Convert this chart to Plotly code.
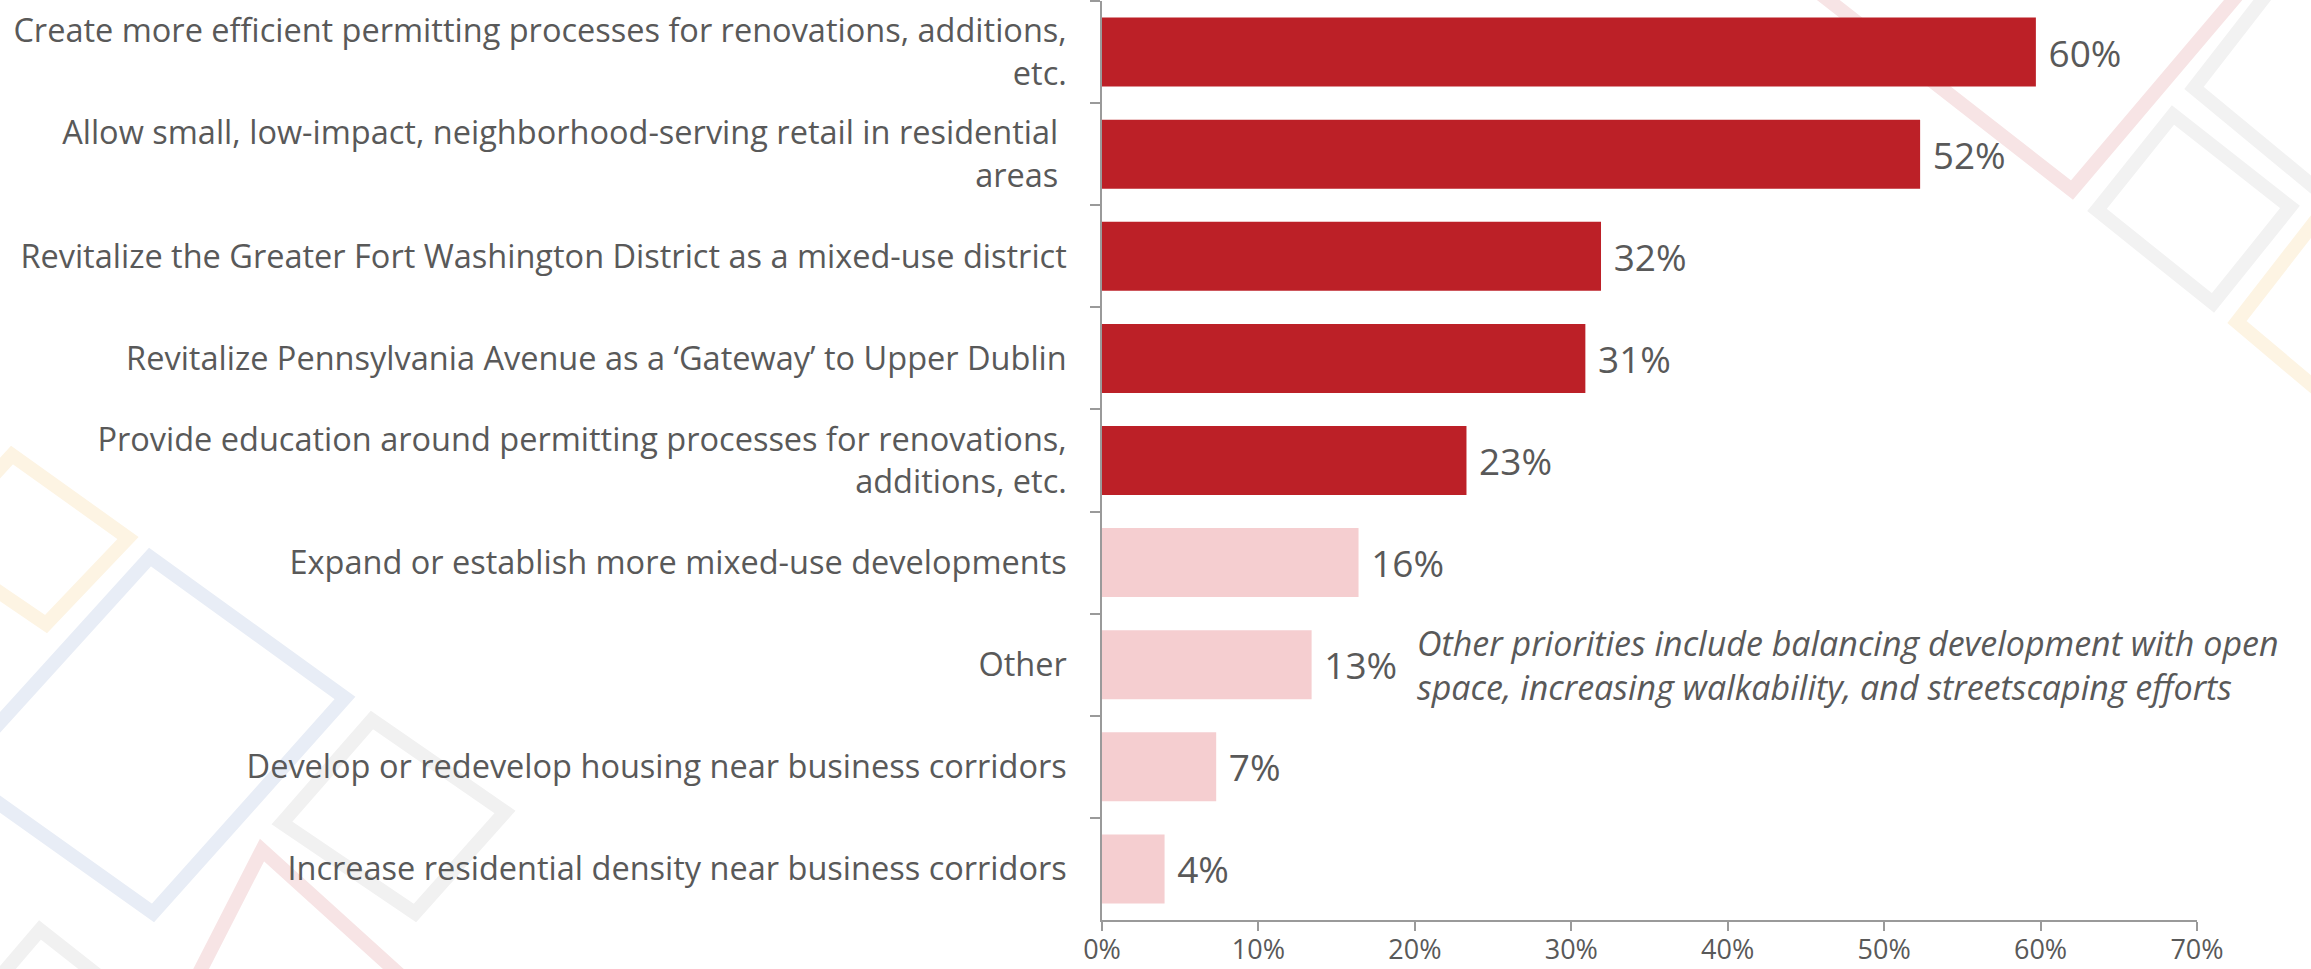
import plotly.graph_objects as go

categories = [
    "Create more efficient permitting processes for renovations, additions,<br>etc.",
    "Allow small, low-impact, neighborhood-serving retail in residential <br>areas ",
    "Revitalize the Greater Fort Washington District as a mixed-use district",
    "Revitalize Pennsylvania Avenue as a \u2018Gateway\u2019 to Upper Dublin",
    "Provide education around permitting processes for renovations,<br>additions, etc.",
    "Expand or establish more mixed-use developments",
    "Other",
    "Develop or redevelop housing near business corridors",
    "Increase residential density near business corridors",
]
values = [59.7, 52.3, 31.9, 30.9, 23.3, 16.4, 13.4, 7.3, 4.0]
is_top = [True, True, True, True, True, False, False, False, False]

x_ticks = [0, 10, 20, 30, 40, 50, 60, 70]
x_tick_labels = ["0%", "10%", "20%", "30%", "40%", "50%", "60%", "70%"]

note_text = ("Other priorities include balancing development with open<br>"
             "space, increasing walkability, and streetscaping efforts")
note_category = "Other"
note_x = 20.0

RED = "#BC2027"
PINK = "#F5CED0"
TEXT = "#595959"
AXIS = "#9A9A9A"

W, H = 2311, 969
ML, MR, MT, MB = 1102, 114, 1, 49

# faint decorative background diamonds (page pixels), purely ornamental
deco = [
    ("#FDF4E3", [(-70, 545), (12, 455), (128, 538), (46, 624)]),
    ("#E8EDF6", [(-45, 772), (150, 557), (345, 698), (153, 913)]),
    ("#F1F1F1", [(282, 823), (372, 720), (505, 812), (415, 913)]),
    ("#F7E4E5", [(198, 975), (262, 850), (400, 975)]),
    ("#F1F1F1", [(-20, 1000), (40, 930), (110, 985)]),
    ("#F7E4E5", [(1700, -100), (2072, 190), (2318, -100)]),
    ("#F2F2F2", [(2097, 210), (2173, 115), (2290, 207), (2213, 303)]),
    ("#F2F2F2", [(2270, -10), (2194, 88), (2320, 192)]),
    ("#FDF4E3", [(2320, 215), (2237, 322), (2320, 392)]),
]


def to_paper(px, py):
    return ((px - ML) / (W - ML - MR), (H - MB - py) / (H - MT - MB))


colors = [RED if t else PINK for t in is_top]

fig = go.Figure(
    go.Bar(
        x=values,
        y=categories,
        orientation="h",
        marker=dict(color=colors, line=dict(width=0)),
        texttemplate="\u00a0%{x:.0f}%",
        textposition="outside",
        constraintext="none",
        cliponaxis=False,
        textfont=dict(family="Open Sans", size=37, color=TEXT),
        hoverinfo="skip",
    )
)

for col, pts in deco:
    closed = len(pts) == 4
    path = ""
    for i, (px, py) in enumerate(pts):
        xp, yp = to_paper(px, py)
        path += ("M" if i == 0 else "L") + f"{xp:.5f},{yp:.5f} "
    if closed:
        path += "Z"
    fig.add_shape(type="path", path=path, xref="paper", yref="paper",
                  line=dict(color=col, width=14), layer="below")

fig.add_annotation(
    x=note_x, y=note_category, xref="x", yref="y",
    text="<i>" + note_text + "</i>",
    showarrow=False, xanchor="left", yanchor="middle", align="left",
    font=dict(family="Open Sans", size=34, color=TEXT),
)

fig.update_layout(
    width=W, height=H,
    margin=dict(l=ML, r=MR, t=MT, b=MB, autoexpand=False),
    paper_bgcolor="white", plot_bgcolor="rgba(0,0,0,0)",
    bargap=0.324,
    showlegend=False,
)

fig.update_xaxes(
    range=[0, 70],
    tickvals=x_ticks, ticktext=x_tick_labels,
    showgrid=False, zeroline=False,
    showline=True, linecolor=AXIS, linewidth=1.5,
    ticks="outside", ticklen=9, tickcolor=AXIS, tickwidth=1.5,
    tickfont=dict(family="Open Sans", size=27, color=TEXT),
    ticklabelstandoff=-4,
    automargin=False,
    fixedrange=True,
)
fig.update_yaxes(
    autorange="reversed",
    showgrid=False, zeroline=False,
    showline=True, linecolor=AXIS, linewidth=1.5,
    ticks="outside", ticklen=10, tickcolor=AXIS, tickwidth=1.5,
    tickson="boundaries",
    tickfont=dict(family="Open Sans", size=32.5, color=TEXT),
    ticklabelstandoff=27,
    automargin=False,
    fixedrange=True,
)

fig.write_html("out.html", config={"displayModeBar": False},
               post_script="document.body.style.margin='0';")
